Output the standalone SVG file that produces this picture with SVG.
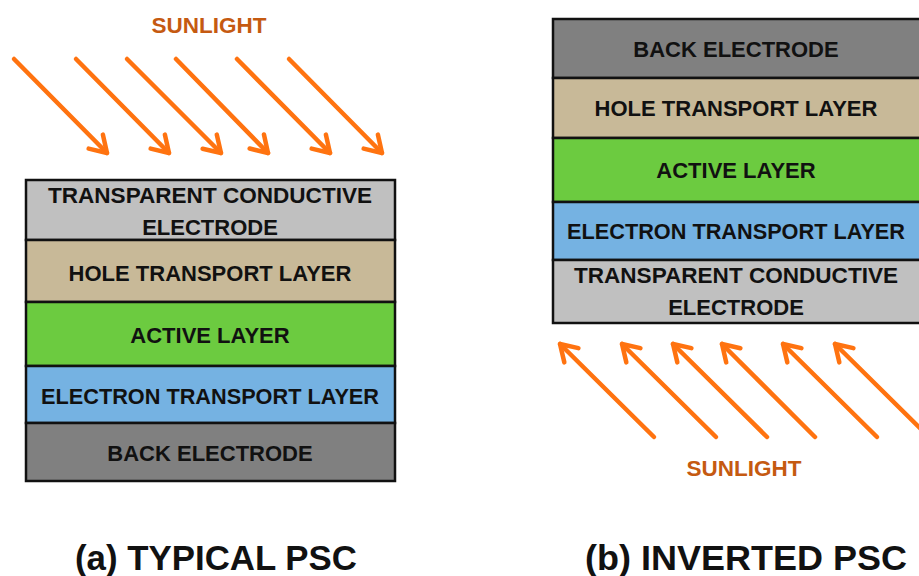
<svg xmlns="http://www.w3.org/2000/svg" width="919" height="576" viewBox="0 0 919 576">
<defs>
<style>
.lbl{font-family:"Liberation Sans",Arial,sans-serif;font-weight:bold;font-size:22px;fill:#111;text-anchor:middle}
.sun{font-family:"Liberation Sans",Arial,sans-serif;font-weight:bold;font-size:22px;fill:#C55A11;text-anchor:middle}
.cap{font-family:"Liberation Sans",Arial,sans-serif;font-weight:bold;font-size:35px;fill:#111;text-anchor:middle}
.lay{stroke:#111;stroke-width:2.5}
.tce{fill:#C0C0C0}.htl{fill:#C8B998}.act{fill:#6CCB40}.etl{fill:#75B2E2}.back{fill:#808080}
.ray{stroke:#FF7310;stroke-width:4.5;stroke-linecap:round;fill:none;marker-end:url(#head)}
</style>
<marker id="head" markerUnits="userSpaceOnUse" viewBox="-20 -14 24 28" refX="0" refY="0" markerWidth="24" markerHeight="28" orient="auto">
<path d="M-16,-10 L0,0 L-16,10" fill="none" stroke="#FF7310" stroke-width="4.5" stroke-linecap="round" stroke-linejoin="round"/>
</marker>
</defs>
<rect width="919" height="576" fill="#fff"/>

<g id="connectors">
<line class="ray" x1="14" y1="59" x2="107" y2="153"/>
<line class="ray" x1="76" y1="59" x2="169" y2="153"/>
<line class="ray" x1="127" y1="59" x2="221" y2="153"/>
<line class="ray" x1="176" y1="59" x2="268" y2="153"/>
<line class="ray" x1="237" y1="59" x2="330" y2="153"/>
<line class="ray" x1="289" y1="59" x2="382" y2="153"/>
<line class="ray" x1="654" y1="437" x2="560" y2="344"/>
<line class="ray" x1="716" y1="437" x2="622" y2="344"/>
<line class="ray" x1="767" y1="437" x2="673" y2="344"/>
<line class="ray" x1="815" y1="437" x2="722" y2="344"/>
<line class="ray" x1="877" y1="437" x2="783" y2="344"/>
<line class="ray" x1="929" y1="437" x2="835" y2="344"/>
</g>

<g id="sunlight-a"><text class="sun" x="209" y="33" textLength="115" lengthAdjust="spacingAndGlyphs">SUNLIGHT</text></g>
<g id="sunlight-b"><text class="sun" x="744" y="476" textLength="115" lengthAdjust="spacingAndGlyphs">SUNLIGHT</text></g>

<g id="a-tce"><rect class="lay tce" x="26" y="180" width="369" height="60"/>
<text class="lbl" x="210" y="203" textLength="324" lengthAdjust="spacingAndGlyphs">TRANSPARENT CONDUCTIVE</text>
<text class="lbl" x="210" y="235">ELECTRODE</text></g>
<g id="a-htl"><rect class="lay htl" x="26" y="240" width="369" height="62"/>
<text class="lbl" x="210" y="281">HOLE TRANSPORT LAYER</text></g>
<g id="a-active"><rect class="lay act" x="26" y="302" width="369" height="64"/>
<text class="lbl" x="210" y="343">ACTIVE LAYER</text></g>
<g id="a-etl"><rect class="lay etl" x="26" y="366" width="369" height="57"/>
<text class="lbl" x="210" y="404" textLength="338" lengthAdjust="spacingAndGlyphs">ELECTRON TRANSPORT LAYER</text></g>
<g id="a-back"><rect class="lay back" x="26" y="423" width="369" height="58"/>
<text class="lbl" x="210" y="461">BACK ELECTRODE</text></g>

<g id="b-back"><rect class="lay back" x="553" y="19" width="368" height="59"/>
<text class="lbl" x="736" y="57">BACK ELECTRODE</text></g>
<g id="b-htl"><rect class="lay htl" x="553" y="78" width="368" height="60"/>
<text class="lbl" x="736" y="116">HOLE TRANSPORT LAYER</text></g>
<g id="b-active"><rect class="lay act" x="553" y="138" width="368" height="64"/>
<text class="lbl" x="736" y="178">ACTIVE LAYER</text></g>
<g id="b-etl"><rect class="lay etl" x="553" y="202" width="368" height="58"/>
<text class="lbl" x="736" y="239" textLength="338" lengthAdjust="spacingAndGlyphs">ELECTRON TRANSPORT LAYER</text></g>
<g id="b-tce"><rect class="lay tce" x="553" y="260" width="368" height="63"/>
<text class="lbl" x="736" y="283" textLength="324" lengthAdjust="spacingAndGlyphs">TRANSPARENT CONDUCTIVE</text>
<text class="lbl" x="736" y="315">ELECTRODE</text></g>

<g id="caption-a"><text class="cap" x="216" y="570" textLength="282" lengthAdjust="spacingAndGlyphs">(a) TYPICAL PSC</text></g>
<g id="caption-b"><text class="cap" x="746" y="570" textLength="322" lengthAdjust="spacingAndGlyphs">(b) INVERTED PSC</text></g>
</svg>
